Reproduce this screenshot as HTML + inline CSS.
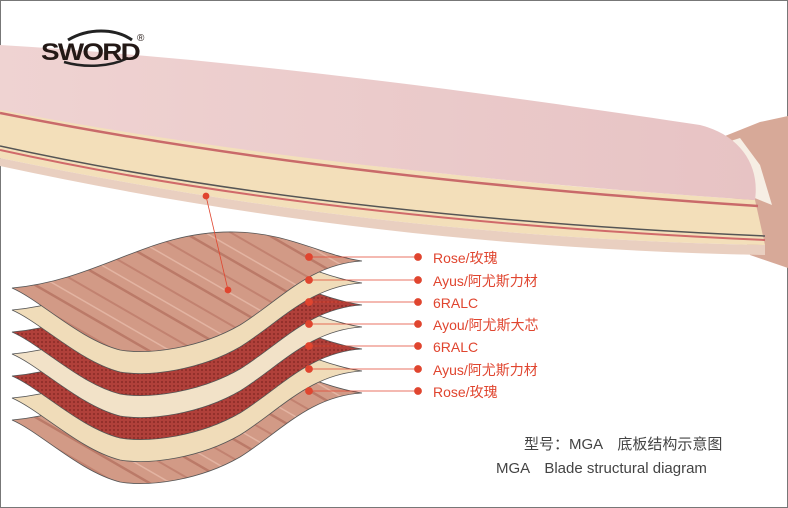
<!DOCTYPE html>
<html><head><meta charset="utf-8"><style>
html,body{margin:0;padding:0;background:#fff}
svg{display:block}
</style></head><body>
<svg width="788" height="508" viewBox="0 0 788 508" xmlns="http://www.w3.org/2000/svg">
<defs>
<pattern id="cf" width="4" height="4" patternUnits="userSpaceOnUse">
<rect width="4" height="4" fill="#b0403a"/><circle cx="2" cy="2" r="1" fill="#8a2a26"/>
</pattern>
<pattern id="rg" width="40" height="40" patternUnits="userSpaceOnUse" patternTransform="rotate(30)">
<rect width="40" height="40" fill="#d29a86"/>
<rect y="5" width="40" height="2" fill="#c28270"/><rect y="18" width="40" height="1.5" fill="#e3b4a2"/><rect y="28" width="40" height="2.5" fill="#bb7a68"/>
</pattern>
<linearGradient id="top" x1="0" y1="0" x2="1" y2="0"><stop offset="0" stop-color="#efd3d2"/><stop offset="1" stop-color="#e7c3c4"/></linearGradient>
<path id="L" d="M12,288 C100,280 150,230 235,232 C290,233 320,255 362,261 C310,264 280,300 240,325 C200,348 150,355 120,350 C80,340 40,300 12,288 Z"/>
</defs>
<rect x="0.5" y="0.5" width="787" height="507" fill="#fff" stroke="#777"/>
<!-- handle -->
<path d="M715,140 L760,122 L788,116 L788,268 L750,255 Z" fill="#d7a998"/>
<path d="M718,145 L740,138 L760,165 L772,205 L740,192 Z" fill="#f6eee4"/>
<!-- blade edge -->
<path d="M0,108 C200,148 450,180 755,200 L765,245 C500,240 250,210 0,158 Z" fill="#f3dfba"/>
<path d="M0,113 C200,153 450,186 758,206" stroke="#c96a6a" stroke-width="2.5" fill="none"/>
<path d="M0,146 C200,190 450,222 765,236" stroke="#555" stroke-width="1.5" fill="none"/>
<path d="M0,150 C200,194 450,226 765,240" stroke="#d06a6a" stroke-width="2" fill="none"/>
<path d="M0,158 C250,210 500,240 765,245 L765,255 C500,250 250,220 0,166 Z" fill="#e9cfc0"/>
<!-- blade top -->
<path d="M0,45 C250,60 500,95 700,125 C740,135 760,165 755,200 C450,180 200,148 0,110 Z" fill="url(#top)"/>
<!-- layers -->
<use href="#L" transform="translate(0,132)" fill="url(#rg)" stroke="#555" stroke-width="0.8"/>
<use href="#L" transform="translate(0,110)" fill="#f0dcb9" stroke="#555" stroke-width="0.8"/>
<use href="#L" transform="translate(0,88)" fill="url(#cf)" stroke="#555" stroke-width="0.8"/>
<use href="#L" transform="translate(0,66)" fill="#f2e2c8" stroke="#555" stroke-width="0.8"/>
<use href="#L" transform="translate(0,44)" fill="url(#cf)" stroke="#555" stroke-width="0.8"/>
<use href="#L" transform="translate(0,22)" fill="#f0dcb9" stroke="#555" stroke-width="0.8"/>
<use href="#L" fill="url(#rg)" stroke="#555" stroke-width="0.8"/>
<!-- leaders -->
<g stroke="#e0452f" stroke-width="0.8" fill="#e0452f">
<line x1="206" y1="196" x2="228" y2="290"/>
<circle cx="206" cy="196" r="3"/><circle cx="228" cy="290" r="3"/>
<line x1="309" y1="257" x2="418" y2="257"/><circle cx="309" cy="257" r="3.5"/><circle cx="418" cy="257" r="3.5"/>
<line x1="309" y1="280" x2="418" y2="280"/><circle cx="309" cy="280" r="3.5"/><circle cx="418" cy="280" r="3.5"/>
<line x1="309" y1="302" x2="418" y2="302"/><circle cx="309" cy="302" r="3.5"/><circle cx="418" cy="302" r="3.5"/>
<line x1="309" y1="324" x2="418" y2="324"/><circle cx="309" cy="324" r="3.5"/><circle cx="418" cy="324" r="3.5"/>
<line x1="309" y1="346" x2="418" y2="346"/><circle cx="309" cy="346" r="3.5"/><circle cx="418" cy="346" r="3.5"/>
<line x1="309" y1="369" x2="418" y2="369"/><circle cx="309" cy="369" r="3.5"/><circle cx="418" cy="369" r="3.5"/>
<line x1="309" y1="391" x2="418" y2="391"/><circle cx="309" cy="391" r="3.5"/><circle cx="418" cy="391" r="3.5"/>
</g>
<g font-family="Liberation Sans, Noto Sans CJK SC, sans-serif" font-size="14" fill="#e0452f">
<text x="433" y="263">Rose/玫瑰</text>
<text x="433" y="286">Ayus/阿尤斯力材</text>
<text x="433" y="308">6RALC</text>
<text x="433" y="330">Ayou/阿尤斯大芯</text>
<text x="433" y="352">6RALC</text>
<text x="433" y="375">Ayus/阿尤斯力材</text>
<text x="433" y="397">Rose/玫瑰</text>
</g>
<g font-family="Liberation Sans, Noto Sans CJK SC, sans-serif" font-size="15" fill="#444">
<text x="524" y="449">型号：MGA　底板结构示意图</text>
<text x="496" y="473">MGA　Blade structural diagram</text>
</g>
<!-- logo -->
<path d="M68,40 C88,28 115,28 132,40" stroke="#222" stroke-width="3" fill="none"/>
<path d="M64,62 C85,68 110,67 128,58" stroke="#222" stroke-width="2.5" fill="none"/>
<text x="41" y="60" font-family="Liberation Sans, sans-serif" font-weight="bold" font-size="24" fill="#231815" letter-spacing="-1.5" textLength="98" lengthAdjust="spacingAndGlyphs">SWORD</text>
<text x="137" y="41" font-family="Liberation Sans, sans-serif" font-size="10" fill="#231815">®</text>
</svg>
</body></html>
